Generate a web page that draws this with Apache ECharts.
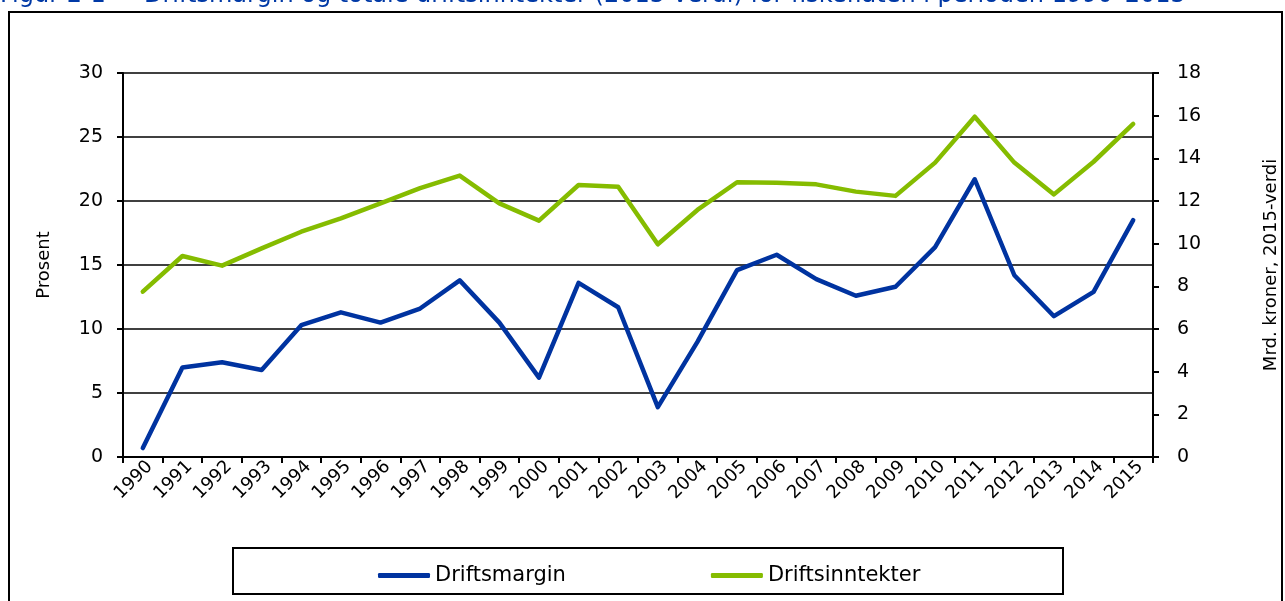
<!DOCTYPE html>
<html>
<head>
<meta charset="utf-8">
<script src="https://cdn.jsdelivr.net/npm/echarts@6/dist/echarts.min.js"></script>
<style>
  html, body { margin: 0; padding: 0; background: #fff; }
  #chart { width: 1285px; height: 601px; }
</style>
</head>
<body>
<div id="chart"></div>
<script>
// år
const years = ['1990', '1991', '1992', '1993', '1994', '1995', '1996', '1997', '1998', '1999',
  '2000', '2001', '2002', '2003', '2004', '2005', '2006', '2007', '2008', '2009',
  '2010', '2011', '2012', '2013', '2014', '2015'];

// driftsmargin, prosent (venstre akse)
const driftsmargin = [0.7, 7.0, 7.4, 6.8, 10.3, 11.3, 10.5, 11.6, 13.8, 10.5,
  6.2, 13.6, 11.7, 3.9, 9.0, 14.6, 15.8, 13.9, 12.6, 13.3,
  16.4, 21.7, 14.2, 11.0, 12.9, 18.5];

// driftsinntekter, mrd. kroner 2015-verdi (høyre akse)
const driftsinntekter = [7.75, 9.42, 8.97, 9.78, 10.56, 11.19, 11.89, 12.6, 13.19, 11.89,
  11.08, 12.75, 12.67, 9.97, 11.58, 12.88, 12.85, 12.78, 12.44, 12.24,
  13.8, 15.95, 13.8, 12.31, 13.84, 15.61];

const font = 'DejaVu Sans';
const chart = echarts.init(document.getElementById('chart'));

chart.setOption({
  animation: false,
  textStyle: {fontFamily: font, color: '#000'},
  graphic: [
    {
      type: 'text', left: 0, top: -16, silent: true,
      style: {
        text: 'Figur 2-1     Driftsmargin og totale driftsinntekter (2015-verdi) for fiskeflåten i perioden 1990–2015',
        font: '24px "DejaVu Sans"', fill: '#0039a6'
      }
    },
    {
      type: 'rect', silent: true, z: -1,
      shape: {x: 9, y: 12, width: 1273, height: 600},
      style: {fill: 'none', stroke: '#000', lineWidth: 2}
    },
    {
      type: 'rect', silent: true, z: -1,
      shape: {x: 233, y: 548, width: 830, height: 46},
      style: {fill: 'none', stroke: '#000', lineWidth: 2}
    }
  ],
  legend: {
    left: 373,
    top: 560,
    icon: 'roundRect',
    itemWidth: 52,
    itemHeight: 5,
    itemGap: 145,
    textStyle: {fontFamily: font, fontSize: 21, color: '#000'},
    data: ['Driftsmargin', 'Driftsinntekter']
  },
  grid: {left: 123, right: 132, top: 73, bottom: 144, outerBoundsMode: 'none'},
  xAxis: {
    type: 'category',
    data: years,
    boundaryGap: true,
    axisLine: {lineStyle: {color: '#000', width: 2}},
    axisTick: {show: true, alignWithLabel: false, length: 6, lineStyle: {color: '#000', width: 2}},
    axisLabel: {rotate: 45, fontSize: 18, color: '#000', margin: 14, padding: [0, -10, 0, 0], interval: 0}
  },
  yAxis: [
    {
      type: 'value',
      min: 0, max: 30, interval: 5,
      name: 'Prosent',
      nameLocation: 'middle',
      nameGap: 70,
      nameTextStyle: {fontSize: 18, color: '#000'},
      axisLine: {show: true, lineStyle: {color: '#000', width: 2}},
      axisTick: {show: true, length: 6, lineStyle: {color: '#000', width: 2}},
      axisLabel: {fontSize: 19, color: '#000', margin: 20},
      splitLine: {lineStyle: {color: '#000', width: 1.5}}
    },
    {
      type: 'value',
      min: 0, max: 18, interval: 2,
      name: 'Mrd. kroner, 2015-verdi',
      nameLocation: 'middle',
      nameGap: 109,
      nameTextStyle: {fontSize: 18, color: '#000'},
      axisLine: {show: true, lineStyle: {color: '#000', width: 2}},
      axisTick: {show: true, length: 6, lineStyle: {color: '#000', width: 2}},
      axisLabel: {fontSize: 19, color: '#000', margin: 24},
      splitLine: {show: false}
    }
  ],
  series: [
    {
      name: 'Driftsmargin',
      type: 'line',
      yAxisIndex: 0,
      data: driftsmargin,
      symbol: 'none',
      lineStyle: {color: '#0033a0', width: 4.5, cap: 'round', join: 'round'},
      itemStyle: {color: '#0033a0'}
    },
    {
      name: 'Driftsinntekter',
      type: 'line',
      yAxisIndex: 1,
      data: driftsinntekter,
      symbol: 'none',
      lineStyle: {color: '#85bc00', width: 4.5, cap: 'round', join: 'round'},
      itemStyle: {color: '#85bc00'}
    }
  ]
});
</script>
</body>
</html>
